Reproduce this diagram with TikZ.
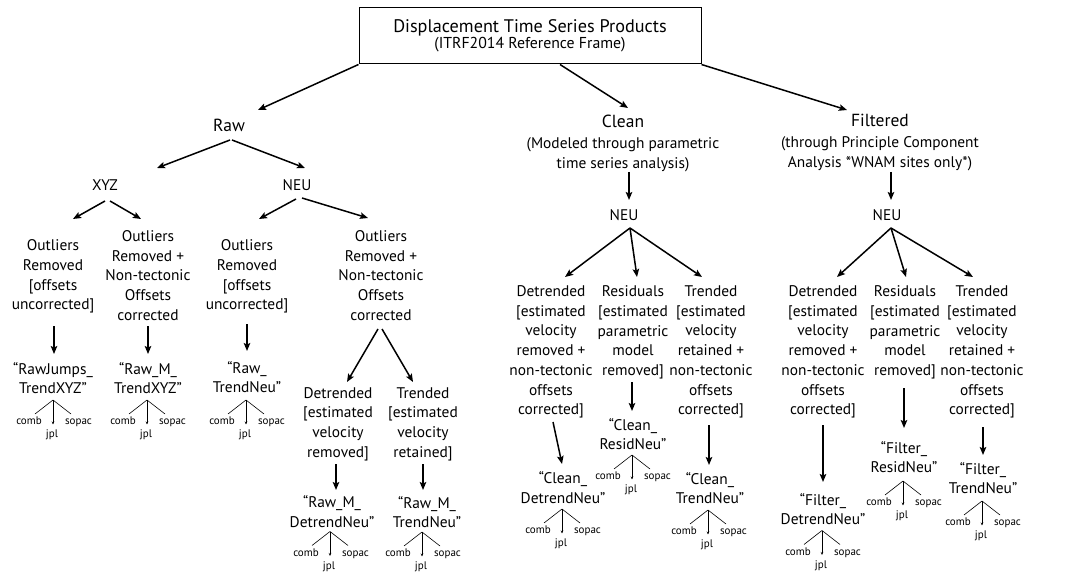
\documentclass[tikz,border=0pt]{standalone}
\usepackage{fontspec}
\setmainfont{PT Sans}
\usetikzlibrary{arrows.meta,calc}
\tikzset{
 lbl/.style={align=center,inner sep=0pt,font=\fontsize{15.4}{19.7}\selectfont},
 lblm/.style={lbl,yshift=-2pt},
 big/.style={inner sep=0pt,font=\fontsize{17.5}{20}\selectfont},
 src/.style={inner sep=0pt,anchor=base,font=\fontsize{11}{12}\selectfont},
 arr/.style={-{Stealth[length=8pt,width=6.5pt,inset=1.5pt]},line width=1.5pt},
 thinl/.style={line width=0.6pt},
 thinarr/.style={-{Stealth[length=3pt,width=2.5pt]},line width=0.6pt},
}
\newcommand\srctree[2]{%
 \coordinate (#1a) at (#2);
 \node[src] (#1c) at ($(#1a)+(-24,24.5)$) {comb};
 \node[src] (#1s) at ($(#1a)+(25.5,24.5)$) {sopac};
 \node[src] (#1j) at ($(#1a)+(-1,37.5)$) {jpl};
 \draw[thinl] (#1a) -- ($(#1c.base)+(6,-10.5)$);
 \draw[thinl] (#1a) -- ($(#1s.base)+(-7.5,-10.5)$);
 \draw[thinarr] (#1a) -- ($(#1j.base)+(1,-13)$);
}
\begin{document}
\begin{tikzpicture}[x=1pt,y=-1pt]
\fill[white] (0,0) rectangle (1087,572);
\useasboundingbox (0,0) rectangle (1087,572);

% title
\node[draw,line width=1pt,minimum width=342pt,minimum height=56pt,inner sep=0pt,align=center] (title) at (530,36)
 {\fontsize{18.2}{21}\selectfont Displacement Time Series Products\\ \fontsize{15.8}{20}\selectfont (ITRF2014 Reference Frame)};

% level 1
\node[big] (raw) at (229,125) {Raw};
\node[big] (clean) at (623,121) {Clean};
\node[lbl] (cleansub) at (623,155) {(Modeled through parametric\\time series analysis)};
\node[big] (filt) at (880,120) {Filtered};
\node[lbl] (filtsub) at (880,154) {(through Principle Component\\Analysis *WNAM sites only*)};

% level 2
\node[lbl] (xyz) at (105,185) {XYZ};
\node[lbl] (neua) at (297,185) {NEU};
\node[lbl] (cneu) at (624,215) {NEU};
\node[lbl] (fneu) at (887,215) {NEU};

% raw branch
\node[lblm] (o1) at (53,274.5) {Outliers\\Removed\\{[}offsets\\uncorrected]};
\node[lblm] (o2) at (148,273.5) {Outliers\\Removed +\\Non-tectonic\\Offsets\\corrected};
\node[lblm] (o3) at (247,274.5) {Outliers\\Removed\\{[}offsets\\uncorrected]};
\node[lblm] (o4) at (381,273.5) {Outliers\\Removed +\\Non-tectonic\\Offsets\\corrected};
\node[lblm] (p1) at (53,376) {“RawJumps\_\\TrendXYZ”};
\node[lblm] (p2) at (148,376) {“Raw\_M\_\\TrendXYZ”};
\node[lblm] (p3) at (247,375) {“Raw\_\\TrendNeu”};
\node[lblm] (d1) at (338,422) {Detrended\\{[}estimated\\velocity\\removed]};
\node[lblm] (t1) at (423,422) {Trended\\{[}estimated\\velocity\\retained]};
\node[lblm] (p4) at (332,509.5) {“Raw\_M\_\\DetrendNeu”};
\node[lblm] (p5) at (427,510) {“Raw\_M\_\\TrendNeu”};

% clean branch
\node[lblm] (cd) at (551,350) {Detrended\\{[}estimated\\velocity\\removed +\\non-tectonic\\offsets\\corrected]};
\node[lblm] (cr) at (633,330.5) {Residuals\\{[}estimated\\parametric\\model\\removed]};
\node[lblm] (ct) at (711,350) {Trended\\{[}estimated\\velocity\\retained +\\non-tectonic\\offsets\\corrected]};
\node[lblm] (pcd) at (563,485.5) {“Clean\_\\DetrendNeu”};
\node[lblm] (pcr) at (633,432) {“Clean\_\\ResidNeu”};
\node[lblm] (pct) at (710,486) {“Clean\_\\TrendNeu”};

% filtered branch
\node[lblm] (fd) at (823,350) {Detrended\\{[}estimated\\velocity\\removed +\\non-tectonic\\offsets\\corrected]};
\node[lblm] (fr) at (905,330.5) {Residuals\\{[}estimated\\parametric\\model\\removed]};
\node[lblm] (ft) at (982,350) {Trended\\{[}estimated\\velocity\\retained +\\non-tectonic\\offsets\\corrected]};
\node[lblm] (pfd) at (823,507) {“Filter\_\\DetrendNeu”};
\node[lblm] (pfr) at (904,455) {“Filter\_\\ResidNeu”};
\node[lblm] (pft) at (983,476) {“Filter\_\\TrendNeu”};

% connectors
\draw[arr] (title.south west) -- ($(raw)+(29,-15)$);
\draw[arr] ($(title.south)+(30,0)$) -- ($(clean)+(5,-13)$);
\draw[arr] (title.south east) -- ($(filt)+(-33,-10)$);
\draw[arr] ($(raw)+(1,15)$) -- ($(xyz)+(52,-17)$);
\draw[arr] ($(raw)+(3,15)$) -- ($(neua)+(8,-17)$);
\draw[arr] ($(xyz)+(0,16)$) -- ($(o1)+(20,-57.5)$);
\draw[arr] ($(xyz)+(5,16)$) -- ($(o2)+(-7,-56.5)$);
\draw[arr] ($(neua)+(-1,14)$) -- ($(o3)+(12,-57.5)$);
\draw[arr] ($(neua)+(5,13)$) -- ($(o4)+(-13,-57.5)$);
\draw[arr] ($(o1)+(1,49.5)$) -- ($(p1)+(1,-24)$);
\draw[arr] ($(o2)+(0,50.5)$) -- ($(p2)+(0,-24)$);
\draw[arr] ($(o3)+(0,47.5)$) -- ($(p3)+(0,-26)$);
\draw[arr] ($(o4)+(-3,53.5)$) -- ($(d1)+(9,-42)$);
\draw[arr] ($(o4)+(1,53.5)$) -- ($(t1)+(-10,-42)$);
\draw[arr] ($(d1)+(-2,40)$) -- ($(p4)+(4,-21.5)$);
\draw[arr] ($(t1)+(0,40)$) -- ($(p5)+(-4,-22)$);
\draw[arr] ($(cleansub)+(6,17)$) -- ($(cneu)+(5,-15)$);
\draw[arr] ($(filtsub)+(11,18)$) -- ($(fneu)+(4,-15)$);
\draw[arr] ($(cneu)+(6,13)$) -- ($(cd)+(14,-75)$);
\draw[arr] ($(cneu)+(6,13)$) -- ($(cr)+(4,-55.5)$);
\draw[arr] ($(cneu)+(6,13)$) -- ($(ct)+(-9,-75)$);
\draw[arr] ($(fneu)+(4,13)$) -- ($(fd)+(14,-75)$);
\draw[arr] ($(fneu)+(4,13)$) -- ($(fr)+(1,-55.5)$);
\draw[arr] ($(fneu)+(4,13)$) -- ($(ft)+(-9,-75)$);
\draw[arr] ($(cd)+(2,70)$) -- ($(pcd)+(-1,-23.5)$);
\draw[arr] ($(cr)+(-1,49.5)$) -- ($(pcr)+(-1,-23)$);
\draw[arr] ($(ct)+(-2,73)$) -- ($(pct)+(-1,-23)$);
\draw[arr] ($(fd)+(0,73)$) -- ($(pfd)+(0,-27)$);
\draw[arr] ($(fr)+(-1,55.5)$) -- ($(pfr)+(0,-29)$);
\draw[arr] ($(ft)+(1,75)$) -- ($(pft)+(0,-23)$);

% source trees
\srctree{s1}{$(p1)+(0,22)$}
\srctree{s2}{$(p2)+(-1,22)$}
\srctree{s3}{$(p3)+(-1,23)$}
\srctree{s4}{$(p4)+(-2,20)$}
\srctree{s5}{$(p5)+(-5,20)$}
\srctree{s6}{$(pcd)+(-1,21.5)$}
\srctree{s7}{$(pcr)+(-1,21)$}
\srctree{s8}{$(pct)+(-2,22)$}
\srctree{s9}{$(pfd)+(-1,21.5)$}
\srctree{s10}{$(pfr)+(-1,24)$}
\srctree{s11}{$(pft)+(-1,23)$}
\end{tikzpicture}
\end{document}
